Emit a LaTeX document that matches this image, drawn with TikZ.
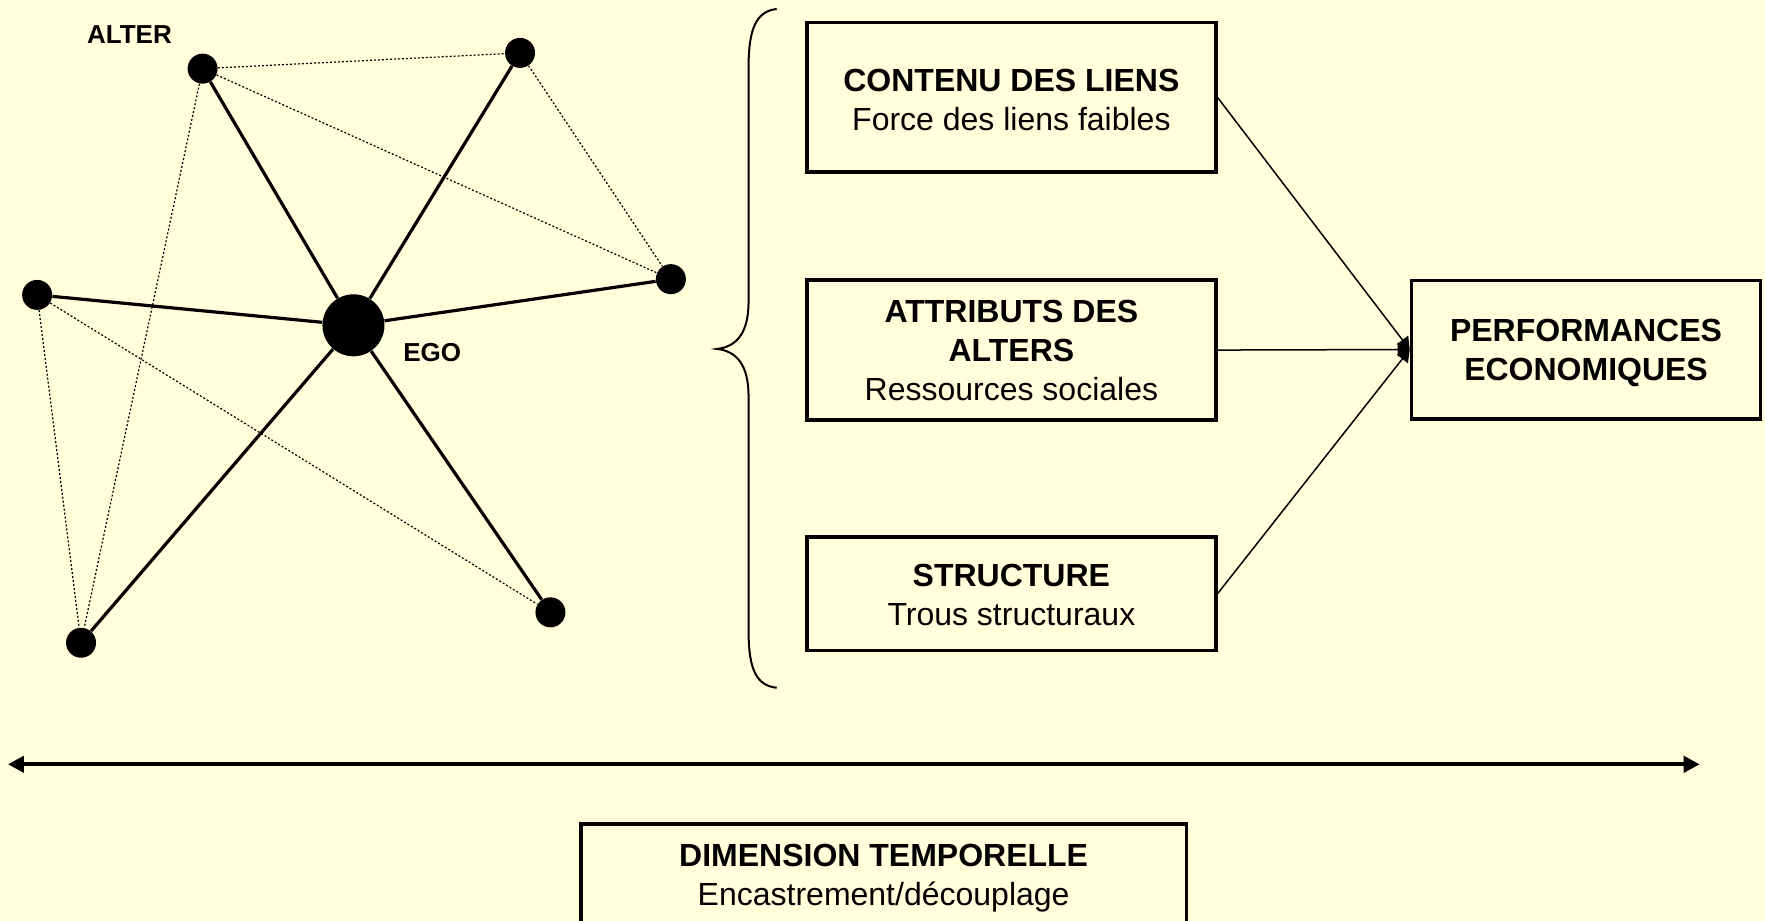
\documentclass[tikz,border=0pt]{standalone}
\usepackage{fontspec}
\setmainfont{Liberation Sans}
\usetikzlibrary{arrows.meta}
\definecolor{bg}{RGB}{255,255,220}
\newcommand{\upstrut}[1]{\rule{0pt}{#1}}
\begin{document}
\begin{tikzpicture}[x=0.5628pt,y=-0.5628pt,
  dot/.style={circle,fill=black,inner sep=0pt,minimum size=15pt},
  egodot/.style={circle,fill=black,inner sep=0pt,minimum size=31pt},
  strong/.style={line width=1.6pt},
  weak/.style={line width=0.6pt,dash pattern=on 1pt off 1pt},
  box/.style={draw,line width=1.8pt,inner sep=0pt,align=center,font=\fontsize{16}{19.5}\selectfont},
  lbl/.style={font=\fontsize{13}{15}\selectfont\bfseries},
  feed/.style={line width=0.75pt,-{Triangle[length=6pt,width=7pt]}},
  timeline/.style={line width=2pt,{Triangle[length=8pt,width=8pt]}-{Triangle[length=8pt,width=8pt]}},
]
\fill[bg] (0,0) rectangle (1568,818);
\clip (0,0) rectangle (1568,818);

% network
\node[dot] (a) at (180,61) {};
\node[dot] (b) at (462,47) {};
\node[dot] (c) at (596,248) {};
\node[dot] (d) at (33,262) {};
\node[dot] (e) at (72,571) {};
\node[dot] (f) at (489,544) {};
\node[egodot] (ego) at (314,289) {};
\node[lbl] (alterlbl) at (115,31) {ALTER};
\node[lbl] (egolbl) at (384,313) {EGO};

\draw[weak] (a) -- (b);
\draw[weak] (a) -- (c);
\draw[weak] (b) -- (c);
\draw[weak] (a) -- (e);
\draw[weak] (d) -- (e);
\draw[weak] (d) -- (f);

\foreach \n in {a,b,c,d,e,f} \draw[strong] (ego) -- (\n);

% brace
\draw[line width=1pt] (690,8) .. controls (672,10) and (665,25) .. (665,60)
  -- (665,268) .. controls (665,295) and (655,308) .. (637,310)
  .. controls (655,312) and (665,325) .. (665,352)
  -- (665,560) .. controls (665,595) and (672,609) .. (690,611);

% boxes
\node[box,minimum width=204.3pt,minimum height=74.9pt] (contenu) at (898.5,86.5)
  {\upstrut{13.7pt}\textbf{CONTENU DES LIENS}\\Force des liens faibles};
\node[box,minimum width=204.3pt,minimum height=69.8pt] (attributs) at (898.5,311)
  {\textbf{ATTRIBUTS DES}\\\textbf{ALTERS}\\Ressources sociales};
\node[box,minimum width=204.3pt,minimum height=56.8pt] (structure) at (898.5,527.5)
  {\upstrut{12.6pt}\textbf{STRUCTURE}\\Trous structuraux};
\node[box,minimum width=174.5pt,minimum height=69.2pt] (perf) at (1409,310.5)
  {\upstrut{14.5pt}\textbf{PERFORMANCES}\\\textbf{ECONOMIQUES}};
\node[box,minimum width=302.8pt,minimum height=52pt] (temps) at (785,778)
  {\upstrut{13.8pt}\textbf{DIMENSION TEMPORELLE}\\Encastrement/découplage};

\draw[feed] (contenu.east) -- (perf.west);
\draw[feed] (attributs.east) -- (perf.west);
\draw[feed] (structure.east) -- (perf.west);

% time axis
\coordinate (tl) at (7,679);
\coordinate (tr) at (1510,679);
\draw[timeline] (tl) -- (tr);
\end{tikzpicture}
\end{document}
